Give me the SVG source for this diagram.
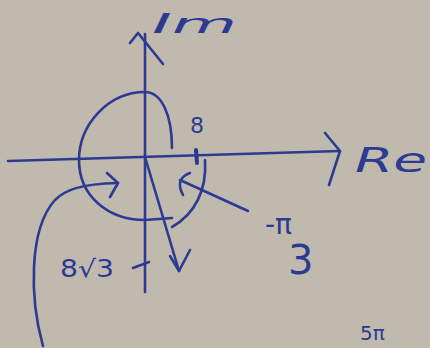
<svg xmlns="http://www.w3.org/2000/svg" width="430" height="348" viewBox="0 0 430 348">
<style>
.ink{fill:none;stroke:#2c3a92;stroke-width:2.6;stroke-linecap:round;stroke-linejoin:round}
.lbl{fill:#2c3a92;font-family:"DejaVu Sans",sans-serif}
</style>
<rect width="430" height="348" fill="#c0baae"/>
<g id="axes" class="ink">
<path d="M8,161 C80,158 200,155 340,151"/>
<path d="M325,133 L340,151 L329,185"/>
<path d="M145,292 L145,34"/>
<path d="M130,43 L138,33 L163,64"/>
<path d="M196,150 L197,163" stroke-width="4"/>
<path d="M133,268 L149,262"/>
</g>
<g id="circle" class="ink">
<path d="M172,148 C172,116 162,92 145,92 C108,92 79,125 79,160 C79,196 108,220 145,220 L172,218"/>
<path d="M205,160 C207,190 195,214 172,227"/>
</g>
<g id="connectors" class="ink">
<path d="M43,346 C30,300 28,230 55,200 C65,190 80,184 118,183"/>
<path d="M107,173 L118,183 L110,197"/>
<path d="M248,211 L180,180"/>
<path d="M190,173 C182,176 176,182 183,195"/>
<path d="M145,157 L179,271"/>
<path d="M170,256 L179,271 L190,250"/>
</g>
<g id="labels" class="lbl">
<text x="152" y="33" font-size="26" font-style="italic" textLength="85" lengthAdjust="spacingAndGlyphs">Im</text>
<text x="190" y="133" font-size="22">8</text>
<text x="355" y="172" font-size="34" font-style="italic" textLength="72" lengthAdjust="spacingAndGlyphs">Re</text>
<text x="60" y="277" font-size="24" textLength="54" lengthAdjust="spacingAndGlyphs">8√3</text>
<text x="265" y="234" font-size="28">-π</text>
<text x="288" y="274" font-size="40">3</text>
<text x="360" y="340" font-size="20">5π</text>
</g>
</svg>
